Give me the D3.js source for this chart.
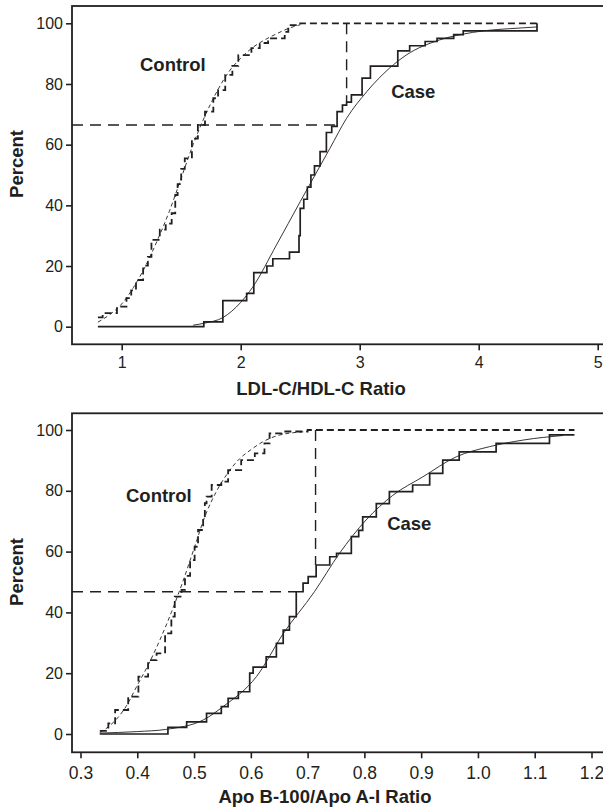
<!DOCTYPE html>
<html>
<head>
<meta charset="utf-8">
<script src="https://cdn.jsdelivr.net/npm/d3@7"></script>
<style>
  body { margin: 0; background: #fff; }
  svg { display: block; font-family: "Liberation Sans", Arial, sans-serif; }
</style>
</head>
<body>
<svg width="603" height="808"></svg>
<script>
var pctTicks = [0, 20, 40, 60, 80, 100];
var ldlTicks = [1, 2, 3, 4, 5];
var apoTicks = [0.3, 0.4, 0.5, 0.6, 0.7, 0.8, 0.9, 1.0, 1.1, 1.2];

// LDL-C/HDL-C ratio: empirical steps [ratio, percent] and fitted curves
var ldlCaseStep = [[0.80, 0], [1.69, 1.6], [1.85, 8.6], [2.05, 11], [2.11, 17.8], [2.22, 20],
  [2.27, 22.4], [2.41, 24.6], [2.49, 30], [2.50, 39], [2.53, 42], [2.56, 46], [2.59, 50],
  [2.62, 53], [2.667, 57.7], [2.72, 64], [2.765, 66], [2.81, 70.9], [2.855, 73], [2.89, 74],
  [2.93, 76.4], [3.02, 81.9], [3.09, 85.9], [3.32, 90.9], [3.42, 92.6], [3.55, 94],
  [3.65, 95], [3.79, 96.3], [3.87, 97.5], [4.49, 100]];
var ldlCaseFit = [[1.6, 0.5], [1.7, 1.2], [1.85, 3], [2.0, 8], [2.1, 13], [2.3, 26.9],
  [2.5, 41.2], [2.75, 58.8], [2.89, 68.7], [3.06, 77.5], [3.25, 85.2], [3.39, 89.5],
  [3.67, 94.5], [3.95, 97], [4.37, 98.5], [4.49, 98.8]];
var ldlCtrlStep = [[0.80, 3.1], [0.84, 4.5], [0.96, 6.6], [1.04, 9.4], [1.08, 12], [1.12, 15.4],
  [1.18, 20.1], [1.22, 23], [1.25, 28.6], [1.32, 32], [1.37, 34], [1.42, 37.4], [1.45, 43.4],
  [1.47, 47], [1.50, 52], [1.53, 55.5], [1.59, 62], [1.64, 66.5], [1.70, 70.9], [1.77, 75.3],
  [1.81, 78], [1.87, 83], [1.93, 86], [1.98, 89.5], [2.09, 91.8], [2.16, 93.5], [2.23, 95],
  [2.37, 97.2], [2.40, 99.4], [2.50, 100], [4.49, 100]];
var ldlCtrlFit = [[0.8, 1.5], [0.9, 4], [1.0, 7.5], [1.1, 13], [1.2, 20], [1.3, 28.5],
  [1.4, 38], [1.5, 49], [1.6, 60], [1.7, 69.5], [1.8, 77.5], [1.9, 84], [2.0, 88.5], [2.1, 92],
  [2.2, 94.5], [2.3, 96.5], [2.4, 98.3], [2.5, 99.5]];
// [horizontal percent, where it stops, vertical ratio, where it stops]
var ldlRef = [66.5, 2.82, 2.89, 74];

// Apo B-100/Apo A-I ratio
var apoCaseStep = [[0.334, 0], [0.454, 2.2], [0.487, 4], [0.522, 6.8], [0.548, 9], [0.56, 11.7],
  [0.578, 13.9], [0.598, 20], [0.604, 22], [0.627, 25.4], [0.645, 29.8], [0.657, 34.2],
  [0.668, 38.6], [0.68, 46.8], [0.692, 49.6], [0.701, 51.8], [0.715, 55.6], [0.739, 58.3],
  [0.751, 59.4], [0.777, 64.9], [0.79, 67], [0.797, 71.4], [0.821, 75.8], [0.844, 79.7],
  [0.885, 81.9], [0.915, 85.7], [0.938, 90.1], [0.967, 92.8], [1.032, 95.6], [1.126, 98.4],
  [1.17, 98.4]];
var apoCaseFit = [[0.334, 0.3], [0.40, 0.8], [0.45, 1.5], [0.516, 4.6], [0.551, 9], [0.61, 18.9],
  [0.657, 33], [0.712, 46.8], [0.756, 59.4], [0.803, 70.4], [0.85, 78.5], [0.903, 84.6],
  [0.962, 91.2], [1.02, 94.5], [1.08, 96.7], [1.15, 98.2]];
var apoCtrlStep = [[0.334, 1], [0.349, 3.5], [0.361, 7.9], [0.384, 12.3], [0.402, 18.9],
  [0.419, 24.3], [0.434, 26.5], [0.449, 33.1], [0.46, 38.6], [0.466, 45.2], [0.478, 47.4],
  [0.484, 52], [0.493, 57.2], [0.501, 61.6], [0.507, 67.1], [0.516, 70.4], [0.519, 75.9],
  [0.522, 78.1], [0.531, 81.9], [0.548, 83], [0.56, 86.8], [0.583, 90.1], [0.607, 92.3],
  [0.624, 95.6], [0.633, 98.9], [0.654, 99.5], [0.70, 100], [1.17, 100]];
var apoCtrlFit = [[0.334, 0.5], [0.35, 2.5], [0.38, 9], [0.40, 16], [0.42, 23], [0.44, 31],
  [0.46, 40], [0.48, 50], [0.50, 61], [0.52, 72], [0.54, 80], [0.56, 86], [0.58, 90.5],
  [0.60, 93.5], [0.62, 96], [0.65, 98.3], [0.70, 99.5]];
var apoRef = [46.8, 0.68, 0.714, 55.6];

var svg = d3.select("svg");
var ink = "#231f20";

function panel(o) {
  var x = d3.scaleLinear().domain(o.xDom).range(o.xRange);
  var y = d3.scaleLinear().domain([0, 100]).range(o.yRange);
  var left = 72, right = 640;
  var g = svg.append("g");

  // frame (right side runs off the page like the original)
  g.append("rect")
    .attr("x", left).attr("y", o.top)
    .attr("width", right - left).attr("height", o.bottom - o.top)
    .attr("fill", "none").attr("stroke", ink).attr("stroke-width", 1.8);

  var ya = g.append("g")
    .attr("transform", "translate(" + left + ",0)")
    .call(d3.axisLeft(y).tickValues(pctTicks).tickSize(6).tickPadding(3));
  var xa = g.append("g")
    .attr("transform", "translate(0," + o.bottom + ")")
    .call(d3.axisBottom(x).tickValues(o.ticks).tickSize(6).tickPadding(o.xPad)
      .tickFormat(o.fmt));
  [ya, xa].forEach(function(a) {
    a.select(".domain").remove();
    a.selectAll("line").attr("stroke", ink).attr("stroke-width", 1.6);
    a.selectAll("text").attr("fill", ink).attr("font-family", null);
  });
  ya.selectAll("text").attr("font-size", 16);
  xa.selectAll("text").attr("font-size", o.xFont);

  var line = d3.line().x(function(d) { return x(d[0]); }).y(function(d) { return y(d[1]); });
  var step = d3.line().curve(d3.curveStepAfter)
    .x(function(d) { return x(d[0]); }).y(function(d) { return y(d[1]); });
  var smooth = d3.line().curve(d3.curveMonotoneX)
    .x(function(d) { return x(d[0]); }).y(function(d) { return y(d[1]); });

  // reference lines
  var r = o.ref;
  g.append("path")
    .attr("d", line([[x.invert(left), r[0]], [r[1], r[0]]]))
    .attr("fill", "none").attr("stroke", ink).attr("stroke-width", 1.4)
    .attr("stroke-dasharray", "11,7");
  g.append("path")
    .attr("d", line([[r[2], 100], [r[2], r[3]]]))
    .attr("fill", "none").attr("stroke", ink).attr("stroke-width", 1.4)
    .attr("stroke-dasharray", "11,7");

  g.append("path").attr("d", smooth(o.ctrlFit))
    .attr("fill", "none").attr("stroke", ink).attr("stroke-width", 0.9)
    .attr("stroke-dasharray", "4,3");
  g.append("path").attr("d", step(o.ctrlStep))
    .attr("fill", "none").attr("stroke", ink).attr("stroke-width", 1.8)
    .attr("stroke-dasharray", "7,4");
  g.append("path").attr("d", smooth(o.caseFit))
    .attr("fill", "none").attr("stroke", ink).attr("stroke-width", 0.9);
  g.append("path").attr("d", step(o.caseStep))
    .attr("fill", "none").attr("stroke", ink).attr("stroke-width", 1.7);

  g.append("text")
    .attr("x", x(o.ctrlLab[0])).attr("y", y(o.ctrlLab[1]))
    .attr("text-anchor", "middle").attr("font-weight", "bold").attr("font-size", 18.5)
    .attr("fill", ink).text("Control");
  g.append("text")
    .attr("x", x(o.caseLab[0])).attr("y", y(o.caseLab[1]))
    .attr("text-anchor", "middle").attr("font-weight", "bold").attr("font-size", 18.5)
    .attr("fill", ink).text("Case");

  g.append("text")
    .attr("transform", "translate(23," + o.yTitle + ") rotate(-90)")
    .attr("text-anchor", "middle").attr("font-weight", "bold").attr("font-size", 18.5)
    .attr("fill", ink).text("Percent");
  g.append("text")
    .attr("x", o.xTitle[0]).attr("y", o.xTitle[1])
    .attr("text-anchor", "middle").attr("font-weight", "bold").attr("font-size", 18.5)
    .attr("fill", ink).text(o.title);
}

panel({
  xDom: [1, 5], xRange: [121.7, 597.7], yRange: [326.7, 23.3],
  top: 6, bottom: 344.3, ticks: ldlTicks, fmt: d3.format("d"), xPad: 6.4, xFont: 16,
  caseStep: ldlCaseStep, caseFit: ldlCaseFit, ctrlStep: ldlCtrlStep, ctrlFit: ldlCtrlFit,
  ref: ldlRef, ctrlLab: [1.43, 84.4], caseLab: [3.45, 75.3],
  yTitle: 164, xTitle: [321, 395], title: "LDL-C/HDL-C Ratio"
});

panel({
  xDom: [0.3, 1.2], xRange: [80.5, 591.5], yRange: [734, 430],
  top: 413.3, bottom: 752.3, ticks: apoTicks, fmt: d3.format(".1f"), xPad: 8.4, xFont: 17.5,
  caseStep: apoCaseStep, caseFit: apoCaseFit, ctrlStep: apoCtrlStep, ctrlFit: apoCtrlFit,
  ref: apoRef, ctrlLab: [0.438, 76.4], caseLab: [0.879, 67.1],
  yTitle: 572, xTitle: [325, 803], title: "Apo B-100/Apo A-I Ratio"
});
</script>
</body>
</html>
